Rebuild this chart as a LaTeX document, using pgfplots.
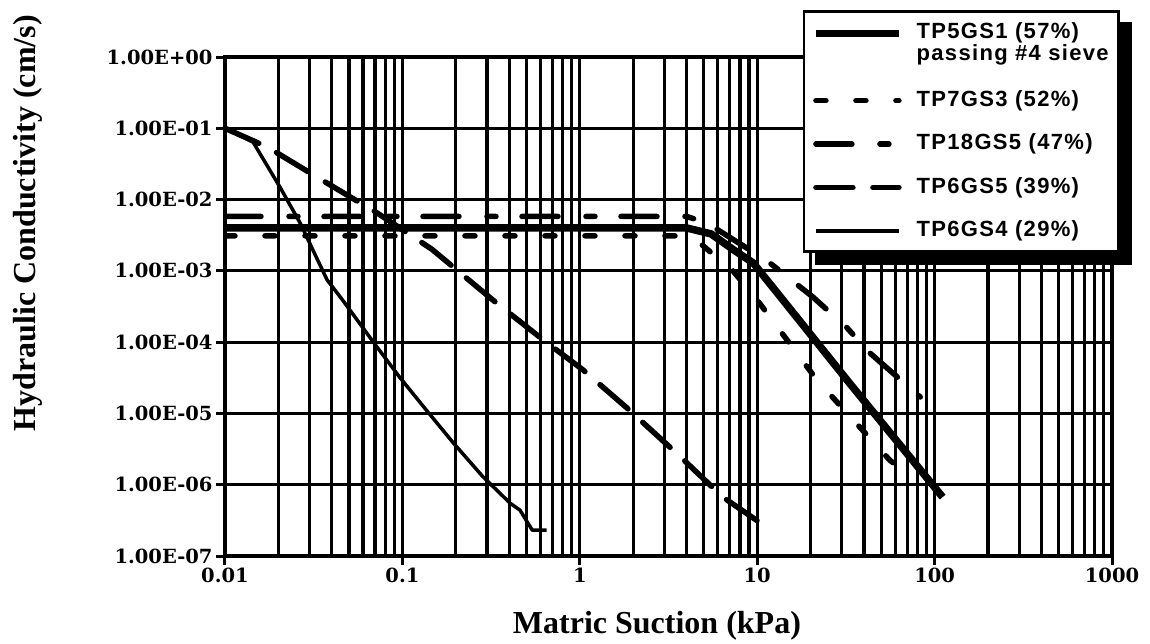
\documentclass[border=0pt]{standalone}
\usepackage{fontspec}
\setmainfont{Liberation Serif}
\newfontfamily\tickfamily{DejaVu Serif}
\newfontfamily\legfamily{Liberation Sans}[LetterSpace=6]
\usepackage{pgfplots}
\pgfplotsset{compat=1.18}
\pgfdeclarelayer{background}
\pgfsetlayers{background,main}
\begin{document}
\begin{tikzpicture}
\begin{axis}[
  scale only axis,
  width=887bp, height=499bp,
  xmode=log, ymode=log,
  xmin=0.01, xmax=1000, ymin=1e-7, ymax=1,
  axis line style={line width=3.5bp},
  xtick={0.01,0.1,1,10,100,1000},
  xticklabels={0.01,0.1,1,10,100,1000},
  ytick={1e-7,1e-6,1e-5,1e-4,1e-3,1e-2,1e-1,1},
  yticklabels={1.00E-07,1.00E-06,1.00E-05,1.00E-04,1.00E-03,1.00E-02,1.00E-01,1.00E+00},
  minor xtick={0.02,0.03,0.04,0.05,0.06,0.07,0.08,0.09,0.2,0.3,0.4,0.5,0.6,0.7,0.8,0.9,2,3,4,5,6,7,8,9,20,30,40,50,60,70,80,90,200,300,400,500,600,700,800,900},
  minor ytick={},
  xmajorgrids, xminorgrids, ymajorgrids,
  major grid style={black, line width=3.2bp},
  minor grid style={black, line width=3.2bp},
  tick align=outside, xtick pos=left, ytick pos=left,
  major tick length=9bp, minor tick length=0bp,
  tick style={black, line width=3bp},
  ticklabel style={font=\tickfamily\bfseries\fontsize{19.5bp}{22bp}\selectfont},
  label style={font=\bfseries\fontsize{32bp}{36bp}\selectfont},
  xlabel={Matric Suction (kPa)},
  ylabel={Hydraulic Conductivity (cm/s)},
  xlabel style={at={(axis description cs:0.487,-0.14)}, anchor=center},
  ylabel style={at={(axis description cs:-0.222,0.667)}, anchor=center},
  legend cell align=left,
  legend image code/.code={\draw[#1] (0bp,0bp) -- (83bp,0bp);},
  legend style={
    name=leg,
    at={(axis description cs:1.009,1.094)}, anchor=north east,
    draw=black, line width=2.5bp, fill=white,
    font=\legfamily\bfseries\fontsize{22bp}{24bp}\selectfont,
    inner xsep=8bp, inner ysep=8bp,
    row sep=19bp, column sep=12bp,
    nodes={inner sep=2bp, text depth={}},
  },
]
\addplot[black, line width=7.5bp, line join=round, legend image post style={yshift=11bp}] coordinates {
(0.01,4e-3) (4.0,4e-3) (5.5,3.3e-3) (7.3,2.0e-3) (9.5,1.29e-3) (19,1.5e-4) (33,2.7e-5) (111,6.7e-7)
};
\addlegendentry{\begin{tabular}[t]{@{}l@{}}TP5GS1 (57\%)\\[-2bp]passing \#4 sieve\end{tabular}}
\addplot[black, line width=5.5bp, line cap=round, dash pattern=on 10bp off 30bp] coordinates {
(0.01,3.1e-3) (4.0,3.1e-3) (4.9,2.3e-3) (7.3,1.0e-3) (10,3.9e-4) (21.7,2.95e-5) (56,2.2e-6) (64,1.7e-6)
};
\addlegendentry{TP7GS3 (52\%)}
\addplot[black, line width=5.5bp, line cap=round, dash pattern=on 36bp off 28bp on 9bp off 26bp] coordinates {
(0.01,5.8e-3) (4.0,5.8e-3) (5.2,4.7e-3) (11.3,1.4e-3) (20.6,4.3e-4) (32,1.6e-4) (43,7.1e-5) (83,1.7e-5)
};
\addlegendentry{TP18GS5 (47\%)}
\addplot[black, line width=5.5bp, line cap=round, dash pattern=on 37bp off 20bp] coordinates {
(0.01,0.1) (0.0173,0.0547) (0.0352,0.0188) (0.072,6.5e-3) (0.147,2.0e-3) (0.341,3.5e-4) (0.653,9.8e-5) (1.04,4.1e-5) (1.84,1.2e-5) (3.67,2.5e-6) (6.4,6.7e-7) (12.3,2.2e-7)
};
\addlegendentry{TP6GS5 (39\%)}
\addplot[black, line width=3.5bp, line join=round] coordinates {
(0.01,0.1) (0.0144,0.064) (0.0204,0.015) (0.0265,4.7e-3) (0.0376,7.5e-4) (0.046,3.9e-4) (0.072,8.5e-5) (0.0967,3.2e-5) (0.137,1.1e-5) (0.193,3.9e-6) (0.284,1.3e-6) (0.405,5.5e-7) (0.46,4.4e-7) (0.54,2.3e-7) (0.65,2.3e-7)
};
\addlegendentry{TP6GS4 (29\%)}
\coordinate (bl) at (rel axis cs:0,0);
\coordinate (tr) at (rel axis cs:1,1);
\end{axis}
\begin{pgfonlayer}{background}
\fill[black] ([shift={(12bp,-12bp)}]leg.south west) rectangle ([shift={(12bp,-12bp)}]leg.north east);
\end{pgfonlayer}
\pgfresetboundingbox
\path ([xshift=-225bp,yshift=-88bp]bl) rectangle ([xshift=38bp,yshift=57bp]tr);
\end{tikzpicture}
\end{document}
